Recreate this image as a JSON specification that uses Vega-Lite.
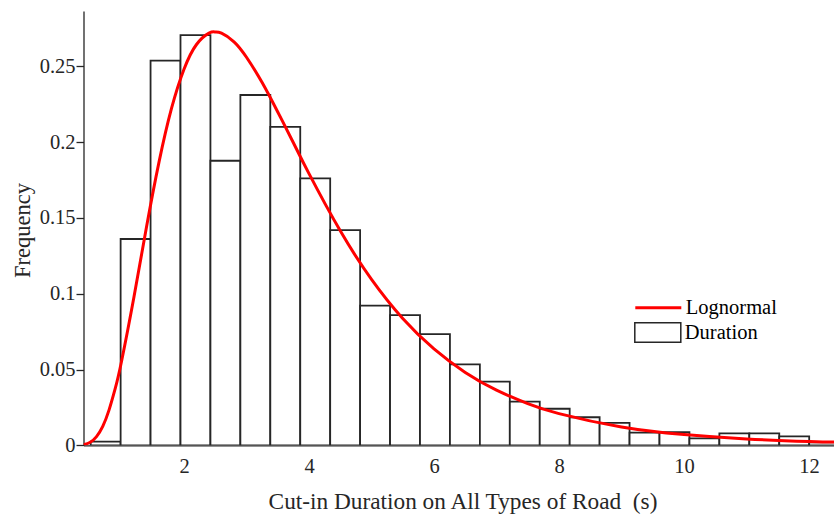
{
  "$schema": "https://vega.github.io/schema/vega-lite/v6.json",
  "autosize": {"type": "none"},
  "width": 750.5,
  "height": 434.3,
  "padding": {"left": 83.5, "top": 11, "right": 0, "bottom": 69.7},
  "background": "white",
  "config": {
    "view": {"stroke": null},
    "font": "Liberation Serif",
    "axis": {
      "grid": false,
      "domainColor": "#262626",
      "domainWidth": 1.3,
      "tickColor": "#262626",
      "tickWidth": 1.3,
      "labelFont": "Liberation Serif",
      "labelFontSize": 20.5,
      "labelColor": "#262626",
      "titleFont": "Liberation Serif",
      "titleFontSize": 22.5,
      "titleFontWeight": "normal",
      "titleColor": "#262626"
    },
    "legend": {
      "labelFont": "Liberation Serif",
      "labelFontSize": 20.5,
      "labelColor": "#000000",
      "padding": 0,
      "labelOffset": 3
    }
  },
  "datasets": {
    "bars": [
      {"x0": 0.507, "x1": 0.986, "freq": 0.0024},
      {"x0": 0.986, "x1": 1.465, "freq": 0.1361},
      {"x0": 1.465, "x1": 1.944, "freq": 0.2537},
      {"x0": 1.944, "x1": 2.423, "freq": 0.2706},
      {"x0": 2.423, "x1": 2.902, "freq": 0.1877},
      {"x0": 2.902, "x1": 3.381, "freq": 0.2311},
      {"x0": 3.381, "x1": 3.860, "freq": 0.2100},
      {"x0": 3.860, "x1": 4.339, "freq": 0.1761},
      {"x0": 4.339, "x1": 4.818, "freq": 0.1420},
      {"x0": 4.818, "x1": 5.297, "freq": 0.0921},
      {"x0": 5.297, "x1": 5.776, "freq": 0.0859},
      {"x0": 5.776, "x1": 6.255, "freq": 0.0733},
      {"x0": 6.255, "x1": 6.734, "freq": 0.0534},
      {"x0": 6.734, "x1": 7.213, "freq": 0.0420},
      {"x0": 7.213, "x1": 7.692, "freq": 0.0288},
      {"x0": 7.692, "x1": 8.171, "freq": 0.0241},
      {"x0": 8.171, "x1": 8.650, "freq": 0.0185},
      {"x0": 8.650, "x1": 9.129, "freq": 0.0148},
      {"x0": 9.129, "x1": 9.608, "freq": 0.0084},
      {"x0": 9.608, "x1": 10.087, "freq": 0.0086},
      {"x0": 10.087, "x1": 10.566, "freq": 0.0046},
      {"x0": 10.566, "x1": 11.045, "freq": 0.0079},
      {"x0": 11.045, "x1": 11.524, "freq": 0.0079},
      {"x0": 11.524, "x1": 12.003, "freq": 0.0059},
      {"x0": 12.003, "x1": 12.482, "freq": 0.0020}
    ],
    "curve": [
      {"x": 0.392, "y": 0.0004},
      {"x": 0.5, "y": 0.0020},
      {"x": 0.6, "y": 0.0057},
      {"x": 0.7, "y": 0.0125},
      {"x": 0.8, "y": 0.0232},
      {"x": 0.9, "y": 0.0375},
      {"x": 1.0, "y": 0.0553},
      {"x": 1.2, "y": 0.0980},
      {"x": 1.4, "y": 0.1440},
      {"x": 1.6, "y": 0.1868},
      {"x": 1.8, "y": 0.2222},
      {"x": 2.0, "y": 0.2481},
      {"x": 2.2, "y": 0.2644},
      {"x": 2.4, "y": 0.2719},
      {"x": 2.5, "y": 0.2727},
      {"x": 2.6, "y": 0.2719},
      {"x": 2.8, "y": 0.2662},
      {"x": 3.0, "y": 0.2560},
      {"x": 3.25, "y": 0.2393},
      {"x": 3.5, "y": 0.2199},
      {"x": 3.75, "y": 0.1996},
      {"x": 4.0, "y": 0.1792},
      {"x": 4.5, "y": 0.1415},
      {"x": 5.0, "y": 0.1095},
      {"x": 5.5, "y": 0.0837},
      {"x": 6.0, "y": 0.0636},
      {"x": 6.5, "y": 0.0481},
      {"x": 7.0, "y": 0.0364},
      {"x": 7.5, "y": 0.0275},
      {"x": 8.0, "y": 0.0209},
      {"x": 9.0, "y": 0.0121},
      {"x": 10.0, "y": 0.0071},
      {"x": 11.0, "y": 0.0042},
      {"x": 12.0, "y": 0.0025},
      {"x": 12.4, "y": 0.0021}
    ]
  },
  "layer": [
    {
      "data": {"name": "bars"},
      "mark": {"type": "rect", "fill": "white", "strokeWidth": 1.8, "clip": true},
      "encoding": {
        "x": {
          "field": "x0", "type": "quantitative",
          "scale": {"domain": [0.392, 12.4], "nice": false, "zero": false},
          "axis": {
            "values": [2, 4, 6, 8, 10, 12],
            "format": "d",
            "ticks": false,
            "labelBaseline": "alphabetic",
            "labelPadding": 27.2,
            "title": "Cut-in Duration on All Types of Road\u00a0 (s)",
            "titleFontSize": 23.3,
            "titleBaseline": "alphabetic",
            "titleX": 379,
            "titleY": 63,
            "titleAnchor": "middle"
          }
        },
        "x2": {"field": "x1"},
        "y": {
          "field": "freq", "type": "quantitative",
          "scale": {"domain": [0, 0.2865], "nice": false},
          "axis": {
            "values": [0, 0.05, 0.1, 0.15, 0.2, 0.25],
            "format": "~g",
            "tickSize": 7.5,
            "labelPadding": 1,
            "title": "Frequency",
            "titleBaseline": "alphabetic",
            "titleX": -54.2,
            "titleY": 219,
            "titleAngle": -90
          }
        },
        "y2": {"datum": 0},
        "stroke": {
          "datum": "Duration",
          "scale": {"range": ["#262626"]},
          "legend": {
            "title": null,
            "orient": "none",
            "legendX": 550.3,
            "legendY": 297.5,
            "symbolType": "M-1,-0.42H1V0.42H-1Z",
            "symbolSize": 2116,
            "symbolFillColor": "white",
            "symbolStrokeWidth": 1.5
          }
        }
      }
    },
    {
      "data": {"name": "curve"},
      "mark": {"type": "line", "strokeWidth": 3, "interpolate": "natural", "clip": true},
      "encoding": {
        "x": {"field": "x", "type": "quantitative"},
        "y": {"field": "y", "type": "quantitative"},
        "color": {
          "datum": "Lognormal",
          "scale": {"range": ["#ff0000"]},
          "legend": {
            "title": null,
            "orient": "none",
            "legendX": 550.3,
            "legendY": 272.2,
            "symbolType": "stroke",
            "symbolSize": 2116,
            "symbolStrokeWidth": 3
          }
        }
      }
    }
  ]
}
